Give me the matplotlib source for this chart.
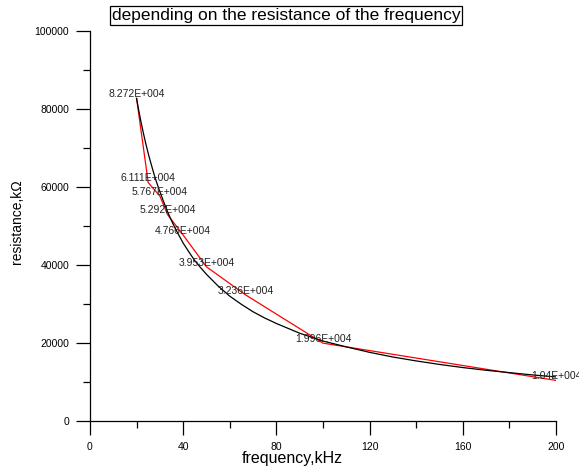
import matplotlib
matplotlib.use('Agg')
import matplotlib.pyplot as plt
from matplotlib.ticker import MultipleLocator

plt.rcParams['font.family'] = ['Liberation Sans', 'DejaVu Sans']

# measured points (red)
freq = [20, 25, 30, 33.3, 40, 50, 66.7, 100, 200]
resist = [82720, 61110, 57670, 52920, 47660, 39530, 32360, 19960, 10400]
point_labels = ['8.272E+004', '6.111E+004', '5.767E+004', '5.292E+004', '4.766E+004',
                '3.953E+004', '3.236E+004', '1.996E+004', '1.04E+004']

# fitted curve (black)
fit_freq = [20, 21, 22, 23, 24, 25, 26, 27, 28, 29, 30, 31.5, 33, 34.5, 36, 38, 40,
            42.5, 45, 47.5, 50, 55, 60, 65, 70, 75, 80, 90, 100, 110, 120, 130, 140,
            150, 160, 170, 180, 190, 200]
fit_resist = [82720, 79400, 76400, 73600, 71000, 68600, 66400, 64300, 62300, 60500,
              58800, 56400, 54100, 52000, 50100, 47800, 45600, 43300, 41100, 39300,
              37600, 34600, 32000, 29900, 28000, 26400, 25000, 22500, 20500, 19000,
              17600, 16400, 15400, 14500, 13700, 13000, 12400, 11800, 11300]

fig = plt.figure(figsize=(5.79, 4.71), dpi=100)
ax = fig.add_axes([0.1554, 0.1062, 0.8049, 0.828])

ax.plot(freq, resist, color='red', lw=0.9, zorder=2)
ax.plot(fit_freq, fit_resist, color='black', lw=0.9, zorder=3)

for x, y, s in zip(freq, resist, point_labels):
    ax.annotate(s, (x, y), xytext=(0, 3), textcoords='offset points',
                ha='center', va='center', fontsize=7.5, color='#222222', zorder=4)

ax.set_xlim(0, 200)
ax.set_ylim(0, 100000)
ax.xaxis.set_major_locator(MultipleLocator(40))
ax.xaxis.set_minor_locator(MultipleLocator(20))
ax.yaxis.set_major_locator(MultipleLocator(20000))
ax.yaxis.set_minor_locator(MultipleLocator(10000))
ax.tick_params(which='major', direction='out', length=10, width=0.9, labelsize=7.5, pad=5)
ax.tick_params(which='minor', direction='out', length=5, width=0.9)

for side in ['top', 'right']:
    ax.spines[side].set_visible(False)
for side in ['left', 'bottom']:
    ax.spines[side].set_linewidth(0.9)

ax.set_xlabel('frequency,kHz', fontsize=11.5)
ax.xaxis.set_label_coords(0.433, -0.076)
ax.set_ylabel('resistance,k\u03a9', fontsize=10)
ax.yaxis.set_label_coords(-0.142, 0.51)

fig.text(0.494, 0.967, 'depending on the resistance of the frequency', ha='center', va='center',
         fontsize=12.5, bbox=dict(facecolor='white', edgecolor='black', linewidth=0.9, pad=1.5))

fig.savefig('out.png', dpi=100)
